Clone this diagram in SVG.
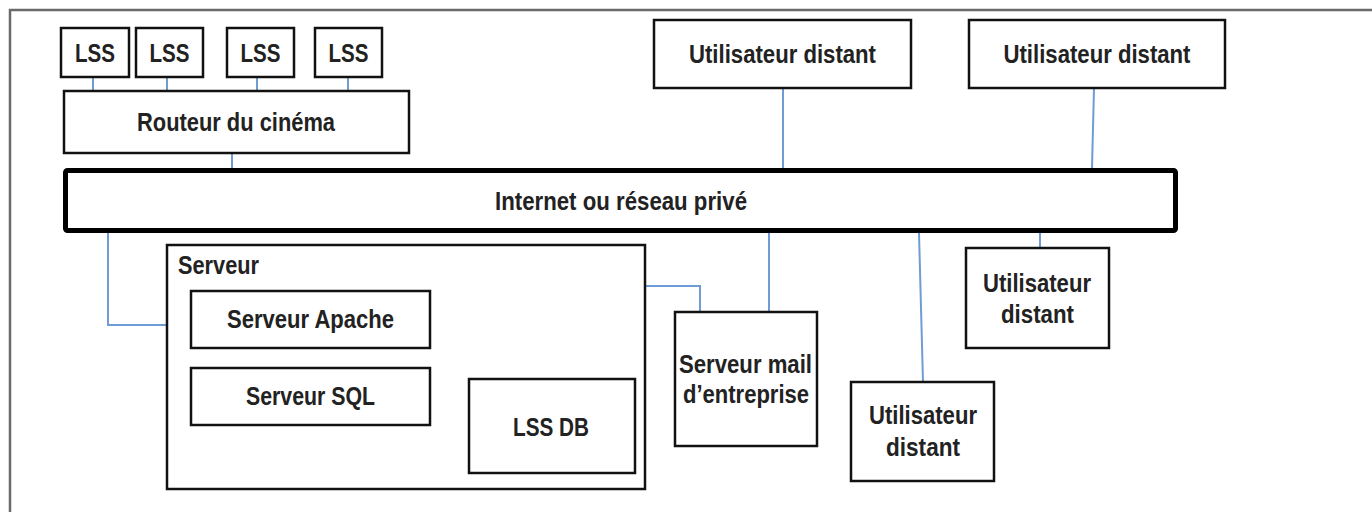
<svg xmlns="http://www.w3.org/2000/svg" width="1372" height="512" viewBox="0 0 1372 512">
  <style>
    .box { fill: #ffffff; stroke: #111111; stroke-width: 2.5; }
    .net { fill: #ffffff; stroke: #000000; stroke-width: 5; }
    .lbl { font-family: "Liberation Sans", Arial, sans-serif; font-weight: bold; font-size: 26px; fill: #222222; text-anchor: middle; }
    .lbl-l { text-anchor: start; }
    .wire { fill: none; stroke: #6f9bd6; stroke-width: 2; }
  </style>

  <!-- outer frame -->
  <path d="M10 513 V10 H1373" fill="none" stroke="#6a6a6a" stroke-width="2.5"/>

  <!-- connectors -->
  <g id="connectors">
    <line class="wire" x1="93" y1="77" x2="93" y2="91"/>
    <line class="wire" x1="167" y1="77" x2="167" y2="91"/>
    <line class="wire" x1="257" y1="77" x2="257" y2="91"/>
    <line class="wire" x1="348" y1="77" x2="348" y2="91"/>
    <line class="wire" x1="232" y1="153" x2="232" y2="168"/>
    <line class="wire" x1="783" y1="88" x2="783" y2="168"/>
    <line class="wire" x1="1094" y1="88" x2="1092" y2="168"/>
    <polyline class="wire" points="108,233 108,325 167,325"/>
    <polyline class="wire" points="645,286 700,286 700,312"/>
    <line class="wire" x1="769" y1="233" x2="769" y2="312"/>
    <line class="wire" x1="919" y1="233" x2="923" y2="382"/>
    <line class="wire" x1="1040" y1="233" x2="1040" y2="248"/>
  </g>

  <!-- condensed labels: glyphs squeezed to the narrow face widths -->
  <g id="lss-1">
    <rect class="box" x="61" y="28" width="68" height="49"/>
    <text class="lbl" x="95" y="62" textLength="40" lengthAdjust="spacingAndGlyphs">LSS</text>
  </g>
  <g id="lss-2">
    <rect class="box" x="136" y="28" width="67" height="49"/>
    <text class="lbl" x="169.5" y="62" textLength="40" lengthAdjust="spacingAndGlyphs">LSS</text>
  </g>
  <g id="lss-3">
    <rect class="box" x="227" y="28" width="67" height="49"/>
    <text class="lbl" x="260.5" y="62" textLength="40" lengthAdjust="spacingAndGlyphs">LSS</text>
  </g>
  <g id="lss-4">
    <rect class="box" x="315" y="28" width="67" height="49"/>
    <text class="lbl" x="348.5" y="62" textLength="40" lengthAdjust="spacingAndGlyphs">LSS</text>
  </g>

  <g id="routeur">
    <rect class="box" x="64" y="91" width="345" height="62"/>
    <text class="lbl" x="236" y="131" textLength="198" lengthAdjust="spacingAndGlyphs">Routeur du cinéma</text>
  </g>

  <g id="utilisateur-1">
    <rect class="box" x="654" y="20" width="257" height="68"/>
    <text class="lbl" x="782.5" y="63" textLength="187" lengthAdjust="spacingAndGlyphs">Utilisateur distant</text>
  </g>
  <g id="utilisateur-2">
    <rect class="box" x="969" y="20" width="256" height="68"/>
    <text class="lbl" x="1097" y="63" textLength="187" lengthAdjust="spacingAndGlyphs">Utilisateur distant</text>
  </g>

  <g id="internet">
    <rect class="net" x="65.5" y="170.5" width="1110" height="60" rx="2"/>
    <text class="lbl" x="621" y="210" textLength="252" lengthAdjust="spacingAndGlyphs">Internet ou réseau privé</text>
  </g>

  <g id="serveur">
    <rect class="box" x="167" y="245" width="478" height="244"/>
    <text class="lbl lbl-l" x="178" y="274" textLength="81" lengthAdjust="spacingAndGlyphs">Serveur</text>
    <g id="serveur-apache">
      <rect class="box" x="191" y="291" width="239" height="57"/>
      <text class="lbl" x="310.5" y="328" textLength="167" lengthAdjust="spacingAndGlyphs">Serveur Apache</text>
    </g>
    <g id="serveur-sql">
      <rect class="box" x="191" y="368" width="239" height="57"/>
      <text class="lbl" x="310.5" y="405" textLength="129" lengthAdjust="spacingAndGlyphs">Serveur SQL</text>
    </g>
    <g id="lss-db">
      <rect class="box" x="469" y="379" width="166" height="94"/>
      <text class="lbl" x="551" y="436" textLength="76" lengthAdjust="spacingAndGlyphs">LSS DB</text>
    </g>
  </g>

  <g id="serveur-mail">
    <rect class="box" x="675" y="312" width="142" height="134"/>
    <text class="lbl" x="745.5" y="373" textLength="133" lengthAdjust="spacingAndGlyphs">Serveur mail</text>
    <text class="lbl" x="746" y="403" textLength="126" lengthAdjust="spacingAndGlyphs">d’entreprise</text>
  </g>

  <g id="utilisateur-3">
    <rect class="box" x="851" y="382" width="143" height="99"/>
    <text class="lbl" x="923" y="424" textLength="108" lengthAdjust="spacingAndGlyphs">Utilisateur</text>
    <text class="lbl" x="923" y="456" textLength="74" lengthAdjust="spacingAndGlyphs">distant</text>
  </g>

  <g id="utilisateur-4">
    <rect class="box" x="966" y="248" width="143" height="100"/>
    <text class="lbl" x="1037" y="292" textLength="108" lengthAdjust="spacingAndGlyphs">Utilisateur</text>
    <text class="lbl" x="1037.5" y="323" textLength="73" lengthAdjust="spacingAndGlyphs">distant</text>
  </g>
</svg>
